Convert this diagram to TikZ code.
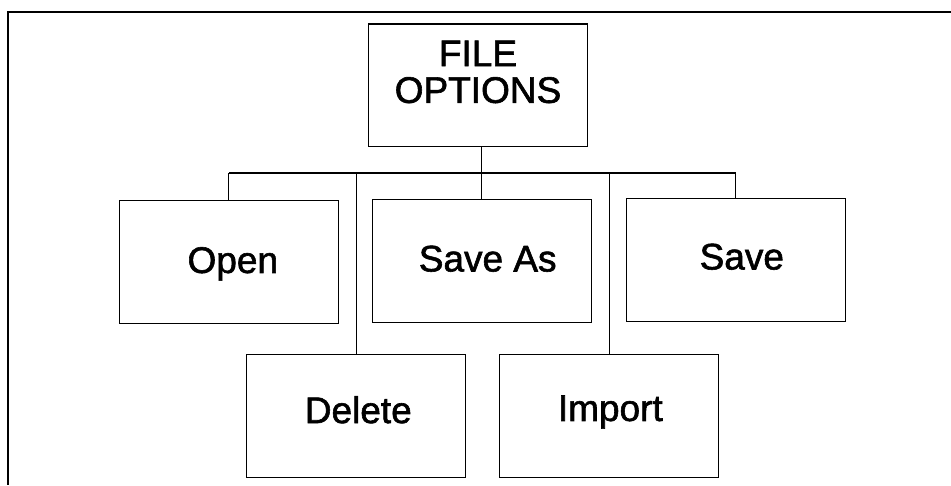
\documentclass[tikz,border=0pt]{standalone}
\usepackage{fontspec}
\setmainfont{Liberation Sans}[FakeBold=1.6]
\begin{document}
\begin{tikzpicture}[x=1pt,y=-1pt,
  box/.style={draw, line width=1.2pt, rectangle, inner sep=0pt,
    minimum width=219pt, minimum height=123pt,
    font=\fontsize{37}{36.7}\selectfont},
  lbl/.style={text height=26.5pt, text depth=#1},
  conn/.style={line width=1.2pt},
  framestroke/.style={line width=1.8pt}]
\useasboundingbox (0,0) rectangle (951,485);
% frame (top and left edges only)
\draw[framestroke] (951,12) -- (8,12) -- (8,485);
% boxes
\node[box, align=center, minimum width=218.6pt, minimum height=122.7pt] (file) at (478,85.3)
  {FILE\\\raisebox{0pt}[\height][27pt]{OPTIONS}};
\node[box, lbl=4pt]  (open)   at (228.8,261.7) {\hspace*{8pt}Open};
\node[box, lbl=6pt]  (saveas) at (481.7,261.2) {\hspace*{12pt}Save As};
\node[box, lbl=8pt]  (save)   at (735.8,260.2) {\hspace*{12pt}Save};
\node[box, lbl=12pt] (delete) at (356.3,415.8) {\hspace*{4pt}Delete};
\node[box, lbl=16pt] (import) at (609.3,415.7) {\hspace*{2pt}Import};
% bus
\coordinate (bus) at (481.7,173);
\draw[conn] (file.south -| saveas.north) -- (saveas.north);
\draw[conn] (bus -| open.north) -- (bus -| save.north);
\draw[conn] (bus -| open.north) -- (open.north);
\draw[conn] (bus -| save.north) -- (save.north);
\draw[conn] (bus -| delete.north) -- (delete.north);
\draw[conn] (bus -| import.north) -- (import.north);
\end{tikzpicture}
\end{document}
